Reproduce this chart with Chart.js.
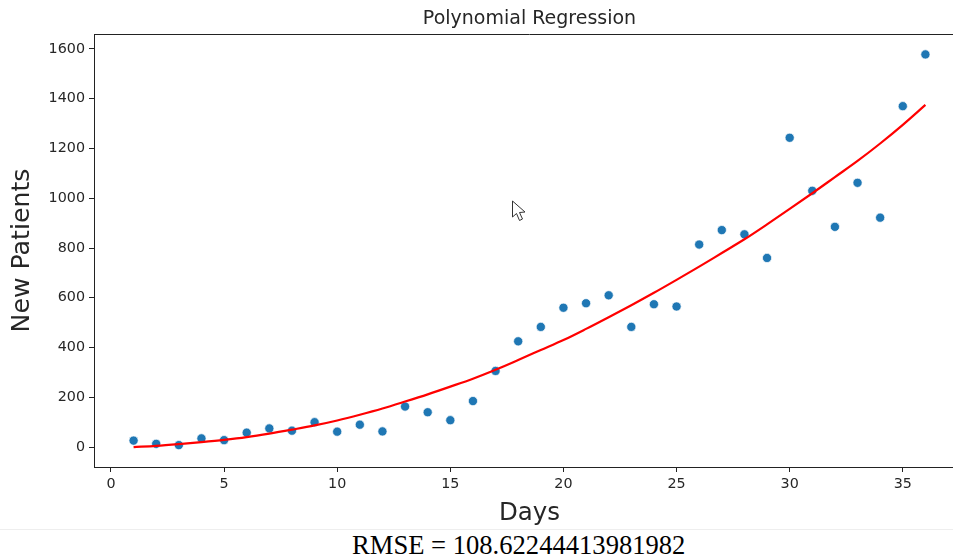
<!DOCTYPE html>
<html>
<head>
<meta charset="utf-8">
<script src="https://cdn.jsdelivr.net/npm/chart.js@4/dist/chart.umd.min.js"></script>
<style>
  html, body { margin: 0; padding: 0; background: #fff; overflow: hidden; }
  #page { position: relative; width: 953px; height: 558px; overflow: hidden; }
  #chart { position: absolute; left: 0; top: 0; }
  #sep { position: absolute; left: 0; top: 529px; width: 953px; height: 1px; background: #eeeeee; }
  #rmse { position: absolute; left: 352px; top: 530px; font: 26.6px/30px "Liberation Serif", serif; color: #000; white-space: nowrap; }
  #cursor { position: absolute; left: 511px; top: 200px; }
</style>
</head>
<body>
<div id="page">
  <canvas id="chart" width="965" height="529"></canvas>
  <div id="sep"></div>
  <div id="rmse"></div>
  <svg id="cursor" width="16" height="22" viewBox="0 0 16 22">
    <path d="M1.5 1 L1.5 17 L5.5 13.5 L8.5 20.5 L11.5 19 L8.5 12.5 L14 12 Z" fill="#fff" stroke="#333" stroke-width="1"/>
  </svg>
</div>
<script>
// Valeurs
const days = [1,2,3,4,5,6,7,8,9,10,11,12,13,14,15,16,17,18,19,20,21,22,23,24,25,26,27,28,29,30,31,32,33,34,35,36];
const newPatients = [26,13,8,35,28,58,75,66,100,62,90,63,163,140,108,185,306,425,483,560,578,610,483,574,565,814,872,855,760,1243,1030,885,1062,922,1370,1578];
const fitValues = [0,5,12,20,29,40,54,70,87,107,130,155,183,212,243,275,311,350,390,430,475,522,570,620,672,725,780,835,895,957,1020,1085,1150,1220,1295,1375];
const xTicks = [0,5,10,15,20,25,30,35];
const yTicks = [0,200,400,600,800,1000,1200,1400,1600];
const chartTitle = 'Polynomial Regression';
const xTitle = 'Days';
const yTitle = 'New Patients';
const rmseText = 'RMSE = 108.62244413981982';

document.getElementById('rmse').textContent = rmseText;

const sans = '"DejaVu Sans", sans-serif';
const textColor = '#262626';

// Ligne du haut du cadre (matplotlib dessine les 4 côtés, celui de droite sort de l'image)
const topSpine = {
  id: 'topSpine',
  afterDraw(chart) {
    const { ctx, chartArea } = chart;
    ctx.save();
    ctx.strokeStyle = '#222';
    ctx.lineWidth = 1;
    ctx.beginPath();
    ctx.moveTo(chartArea.left, chartArea.top + 0.5);
    ctx.lineTo(chartArea.right, chartArea.top + 0.5);
    ctx.stroke();
    ctx.restore();
  }
};

new Chart(document.getElementById('chart').getContext('2d'), {
  type: 'scatter',
  data: {
    datasets: [
      {
        type: 'line',
        label: 'Fit',
        data: days.map((d, i) => ({ x: d, y: fitValues[i] })),
        borderColor: '#ff0000',
        borderWidth: 2.2,
        pointRadius: 0,
        cubicInterpolationMode: 'monotone',
        fill: false,
        order: 1
      },
      {
        label: 'New Patients',
        data: days.map((d, i) => ({ x: d, y: newPatients[i] })),
        backgroundColor: '#1f77b4',
        borderColor: '#ffffff',
        borderWidth: 0.7,
        pointRadius: 4.6,
        order: 2
      }
    ]
  },
  options: {
    responsive: false,
    animation: false,
    layout: { padding: 0, autoPadding: false },
    plugins: {
      legend: { display: false },
      tooltip: { enabled: false },
      title: {
        display: true,
        text: chartTitle,
        fullSize: false,
        color: textColor,
        font: { family: sans, size: 19, weight: 'normal', lineHeight: 1.2 },
        padding: { top: 8, bottom: 3.2 }
      }
    },
    scales: {
      x: {
        type: 'linear',
        min: -0.75,
        max: 37.75,
        afterBuildTicks: axis => { axis.ticks = xTicks.map(v => ({ value: v })); },
        afterFit: axis => { axis.height = 62; axis.paddingLeft = 0; axis.paddingRight = 0; },
        grid: { drawOnChartArea: false, tickLength: 5, tickColor: '#222' },
        border: { color: '#222', width: 1 },
        ticks: { color: textColor, font: { family: sans, size: 14.3 }, maxRotation: 0, padding: 4 },
        title: {
          display: true,
          text: xTitle,
          color: textColor,
          font: { family: sans, size: 24.5 },
          padding: { top: 0, bottom: 1 }
        }
      },
      y: {
        min: -80,
        max: 1660,
        afterBuildTicks: axis => { axis.ticks = yTicks.map(v => ({ value: v })); },
        afterFit: axis => { axis.width = 94; axis.paddingTop = 0; axis.paddingBottom = 0; },
        grid: { drawOnChartArea: false, tickLength: 5, tickColor: '#222' },
        border: { color: '#222', width: 1 },
        ticks: {
          color: textColor,
          font: { family: sans, size: 14.3 },
          padding: 4,
          callback: value => String(value)
        },
        title: {
          display: true,
          text: yTitle,
          color: textColor,
          font: { family: sans, size: 25.2 },
          padding: { top: 7, bottom: 0 }
        }
      }
    }
  },
  plugins: [topSpine]
});
</script>
</body>
</html>
